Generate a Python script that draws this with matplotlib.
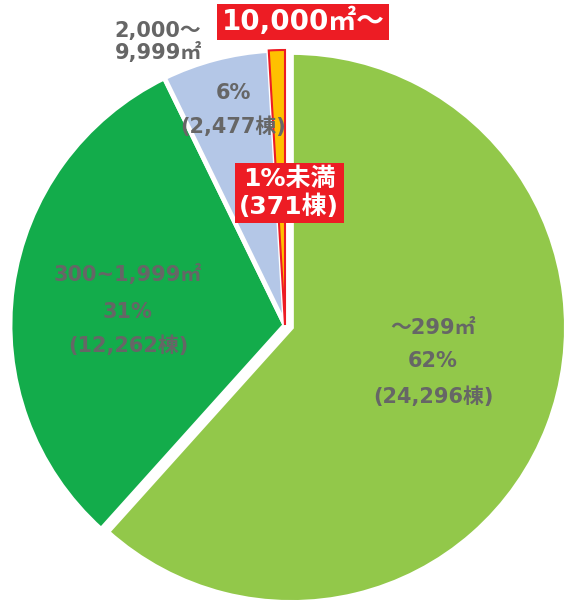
import matplotlib
matplotlib.use("Agg")
import matplotlib.pyplot as plt
import numpy as np

categories = ["～299㎡", "300~1,999㎡", "2,000～\n9,999㎡", "10,000㎡～"]
counts = [24296, 12262, 2477, 371]
pct_labels = ["62%", "31%", "6%", "1%未満"]
count_labels = ["(24,296棟)", "(12,262棟)", "(2,477棟)", "(371棟)"]
colors = ["#92C84A", "#13AC4B", "#B4C7E7", "#FFC000"]

plt.rcParams['font.family'] = ['DejaVu Sans', 'Noto Sans CJK JP']
W, H = 565, 603
fig = plt.figure(figsize=(W/100, H/100), dpi=100)
ax = fig.add_axes([0, 0, 1, 1])

cx, cy, r = 285, H - 325, 275
wedges, _ = ax.pie(counts, colors=colors, startangle=90, counterclock=False,
                   center=(cx, cy), radius=r,
                   wedgeprops=dict(edgecolor='white', linewidth=3.5))
# pull the largest slice out slightly
w0 = wedges[0]
mid = np.deg2rad((w0.theta1 + w0.theta2) / 2)
off = 0.025 * r
w0.set_center((cx + off * np.cos(mid), cy + off * np.sin(mid)))
wedges[3].set_edgecolor('#ED1C24')
wedges[3].set_linewidth(1.5)
ax.set_xlim(0, W)
ax.set_ylim(0, H)
ax.set_aspect('equal')
ax.axis('off')

gray = '#666666'
fs = 15

def t(x, y, s, **kw):
    ax.text(x, H - y, s, ha='center', va='center', color=gray,
            fontsize=fs, fontweight='bold', **kw)

t(433, 328, categories[0]); t(433, 361, pct_labels[0]); t(433, 397, count_labels[0])
t(128, 275, categories[1]); t(128, 312, pct_labels[1]); t(128, 346, count_labels[1])
t(233, 93, pct_labels[2]); t(233, 127, count_labels[2])
ax.text(158, H - 42, categories[2], ha='center', va='center', color=gray,
        fontsize=fs, fontweight='bold', linespacing=1.1)

ax.text(303, H - 22, categories[3], ha='center', va='center', color='white',
        fontsize=20, fontweight='bold', zorder=10,
        bbox=dict(boxstyle='square,pad=0.15', fc='#ED1C24', ec='none'))
ax.text(289, H - 193, pct_labels[3] + "\n" + count_labels[3], ha='center', va='center',
        color='white', fontsize=18, fontweight='bold', zorder=10, linespacing=1.15,
        bbox=dict(boxstyle='square,pad=0.18', fc='#ED1C24', ec='none'))

fig.savefig("out.png", dpi=100)
